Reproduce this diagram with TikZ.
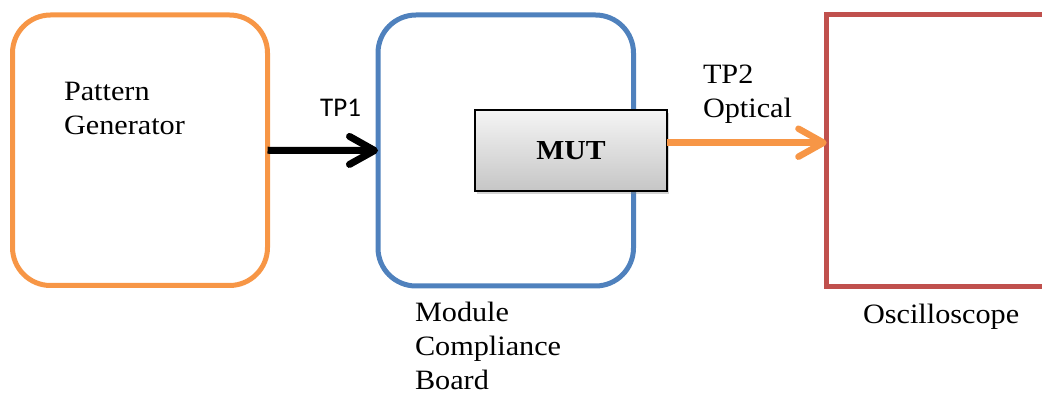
\documentclass[tikz,border=0pt]{standalone}
\usepackage{fontspec}
\setmainfont{Liberation Serif}[FakeStretch=1.08]
\newfontfamily\calfont{Carlito}
\usetikzlibrary{arrows.meta,shadows}
\definecolor{pgorange}{HTML}{F79646}
\definecolor{mcblue}{HTML}{4F81BD}
\definecolor{oscred}{HTML}{C0504D}
\tikzset{
  blockbox/.style={draw, line width=5pt, rounded corners=38pt, inner sep=0pt, outer sep=0pt},
  mutbox/.style={draw=black, line width=1.5pt, inner sep=0pt, outer sep=0pt,
    top color=gray!8, bottom color=gray!45,
    drop shadow={shadow xshift=2pt, shadow yshift=-3pt, opacity=0.35}},
  lbl/.style={inner sep=0pt, outer sep=0pt, align=left, font=\fontsize{28}{34}\selectfont},
  conn/.style={line width=7pt, -{Straight Barb[length=25pt,width=28pt,round]}},
}
\begin{document}
\begin{tikzpicture}[x=1pt,y=-1pt]
\useasboundingbox (0,0) rectangle (1042,395);
% boxes
\node[blockbox, draw=pgorange, minimum width=255pt, minimum height=270.5pt] (pg) at (140,150.25) {};
\node[blockbox, draw=mcblue, minimum width=255.5pt, minimum height=271pt] (mcb) at (505.75,150.5) {};
\node[draw=oscred, line width=5pt, inner sep=0pt, outer sep=0pt, minimum width=273.3pt, minimum height=271.7pt] (osc) at (963.35,150.85) {};
\node[mutbox, minimum width=192pt, minimum height=81pt, font=\bfseries\fontsize{27.5}{34}\selectfont] (mut) at (571,150.5) {MUT};
% connectors
\draw[conn, black] (pg.east) -- (mcb.west);
\draw[conn, pgorange, line width=6.5pt] ([yshift=7.8pt]mut.east) -- ([yshift=7.8pt]mut.east -| osc.west);
% labels (base anchor = baseline of last line)
\node[lbl, anchor=base west] (pgt) at (64,135) {Pattern\\Generator};
\node[inner sep=0pt, anchor=base west, font=\calfont\fontsize{27}{32}\selectfont] (tp1) at (320,117) {TP1};
\node[lbl, anchor=base west] (tp2) at (703,118) {TP2\\Optical};
\node[lbl, anchor=base west] (mcbt) at (415,389) {Module\\Compliance\\Board};
\node[lbl, anchor=base west] (osct) at (863,324) {Oscilloscope};
\end{tikzpicture}
\end{document}
